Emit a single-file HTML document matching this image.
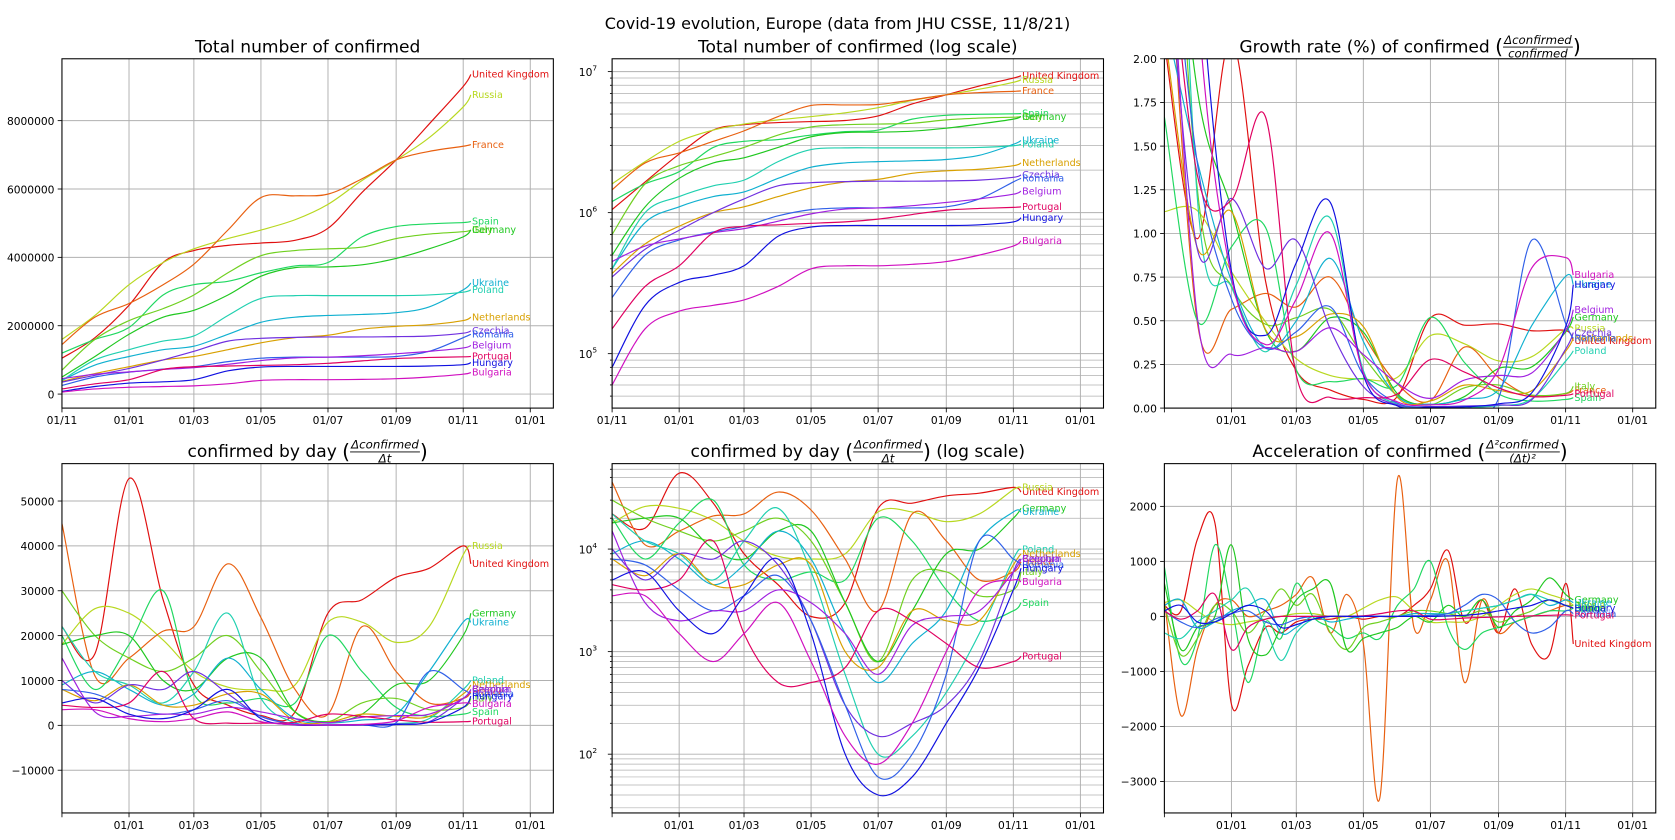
<!DOCTYPE html>
<html><head><meta charset="utf-8">
<style>
html,body{margin:0;padding:0;background:#fff;}
svg{display:block;font-family:"DejaVu Sans","Liberation Sans",sans-serif;}
</style></head>
<body>
<svg id="fig" width="1675" height="840" viewBox="0 0 1568 786.3" xmlns="http://www.w3.org/2000/svg">
<rect width="1568" height="787" fill="#fff"/>
<text x="784" y="27" font-size="15" text-anchor="middle">Covid-19 evolution, Europe (data from JHU CSSE, 11/8/21)</text>
</svg>
<script>
// ---- data ----
const days = [0,30,61,92,120,151,181,212,242,273,304,334,365,372];
const accDays = [0,15,30,46,61,76,92,106,120,135,151,166,181,196,212,227,242,258,273,289,304,319,334,350,365,372];
const monthTicks = [0,61,120,181,242,304,365,426];
const monthLabels = ['01/11','01/01','01/03','01/05','01/07','01/09','01/11','01/01'];
const countries = ['United Kingdom','Russia','France','Spain','Italy','Germany','Ukraine','Poland','Netherlands','Czechia','Romania','Belgium','Portugal','Hungary','Bulgaria'];
// totals (millions)
const totalUK = [1.05,1.65,2.6,3.85,4.2,4.35,4.42,4.5,4.85,5.9,6.85,7.9,9.0,9.35];
const totalRU = [1.6,2.3,3.2,3.85,4.25,4.55,4.8,5.1,5.55,6.25,6.85,7.5,8.4,8.75];
const totalFR = [1.45,2.25,2.65,3.2,3.8,4.8,5.75,5.8,5.85,6.3,6.85,7.1,7.25,7.3];
const totalES = [1.2,1.6,1.95,2.9,3.2,3.3,3.55,3.75,3.85,4.6,4.9,4.98,5.02,5.05];
const totalIT = [0.7,1.6,2.15,2.5,2.9,3.55,4.05,4.2,4.25,4.3,4.55,4.68,4.75,4.8];
const totalDE = [0.5,1.1,1.75,2.25,2.45,2.9,3.45,3.7,3.72,3.78,3.97,4.25,4.6,4.8];
const totalUA = [0.4,0.85,1.1,1.3,1.4,1.75,2.1,2.25,2.3,2.33,2.38,2.55,3.05,3.25];
const totalPL = [0.4,1.0,1.3,1.55,1.7,2.3,2.8,2.88,2.88,2.88,2.88,2.9,2.98,3.05];
const totalNL = [0.37,0.6,0.8,1.0,1.1,1.3,1.5,1.65,1.72,1.9,1.98,2.03,2.15,2.25];
const totalCZ = [0.35,0.55,0.75,1.0,1.25,1.55,1.63,1.66,1.67,1.67,1.68,1.7,1.78,1.85];
const totalRO = [0.25,0.5,0.64,0.73,0.8,0.95,1.05,1.08,1.08,1.08,1.1,1.25,1.65,1.75];
const totalBE = [0.45,0.58,0.65,0.72,0.77,0.87,0.98,1.06,1.08,1.12,1.18,1.25,1.35,1.42];
const totalPT = [0.15,0.3,0.42,0.72,0.8,0.82,0.84,0.86,0.9,0.97,1.04,1.07,1.09,1.1];
const totalHU = [0.08,0.22,0.32,0.36,0.42,0.68,0.79,0.81,0.81,0.81,0.81,0.82,0.86,0.92];
const totalBG = [0.06,0.15,0.2,0.22,0.24,0.3,0.4,0.42,0.42,0.43,0.45,0.5,0.58,0.63];
// confirmed by day
const dailyUK = [22000,16000,55000,28000,9000,4500,2200,3000,25000,28000,33000,35000,40000,36000];
const dailyRU = [18000,26000,25000,19000,12000,8500,8000,9000,23000,23000,18500,22000,38000,40000];
const dailyFR = [45000,11000,15000,21000,22000,36000,24000,8000,2500,22000,12000,5000,6000,7500];
const dailyES = [20000,8000,18000,30000,7000,5000,6000,5000,20000,12000,4000,2000,2500,3000];
const dailyIT = [30000,20000,15000,12000,15000,20000,12000,3000,800,5000,6000,3500,4000,6000];
const dailyDE = [18000,20000,20000,10000,8000,15000,15000,3000,800,2500,9000,10000,20000,25000];
const dailyUA = [9000,12000,8000,4500,7000,15000,8000,1500,500,1200,2500,12000,23000,23000];
const dailyPL = [22000,12000,9000,5000,12000,25000,6000,600,100,150,400,1500,8000,10000];
const dailyNL = [8000,5500,9000,4500,4500,7000,7000,1000,700,2500,2000,2000,7000,9000];
const dailyCZ = [10000,5000,9000,8000,12000,7000,2000,300,150,200,300,800,6000,8000];
const dailyRO = [8000,7000,4000,2500,3500,5500,2000,300,60,100,600,12000,8000,7000];
const dailyBE = [15000,3000,2000,2500,2500,4000,3000,1500,600,1800,2200,2500,6000,8000];
const dailyPT = [4500,4000,5000,12000,1500,500,500,700,2500,2000,1200,700,800,900];
const dailyHU = [5000,6000,2500,1500,3500,8000,1500,100,40,60,200,700,4000,6500];
const dailyBG = [3500,3500,1500,800,1500,3000,800,150,80,200,1000,4000,5000,4800];
// acceleration
const accUK = [200,100,1400,1700,-1600,-900,-200,-300,-100,-50,-50,0,-50,0,0,200,500,1200,-100,300,-300,500,-500,-700,600,-500];
const accRU = [250,300,100,-100,-150,-100,-50,0,50,50,0,0,150,300,350,100,-100,-100,-100,0,200,400,500,400,300,200];
const accFR = [300,-1800,-600,200,300,0,100,200,400,700,-300,400,-500,-3300,2500,-200,300,1000,-1200,300,-300,-100,0,100,200,150];
const accES = [900,-800,-400,1300,200,-1200,-100,-400,600,0,-200,-400,-300,-400,200,500,1000,-200,-600,-300,-200,-100,0,100,100,150];
const accIT = [200,-700,-400,200,100,-300,100,500,200,400,-300,-600,-200,-100,0,100,100,50,0,100,-100,0,100,300,200,200];
const accDE = [600,-600,-200,0,1300,-400,-700,-200,300,500,600,-600,-400,-300,-200,0,-100,200,0,300,-200,100,300,700,400,300];
const accUA = [200,300,-200,-100,100,200,300,-300,-200,0,-100,-50,0,0,0,50,50,50,100,150,200,300,400,200,300,250];
const accPL = [-300,-400,-100,100,300,500,-200,-800,-300,-50,0,0,0,0,0,10,20,50,100,150,200,300,400,300,200,150];
const accRO = [100,-100,-200,-50,50,100,-100,-150,-50,0,0,0,0,0,0,10,20,50,200,400,300,-100,-300,-200,100,50];
const accHU = [100,200,-100,-100,50,200,100,-200,-150,-50,0,0,0,0,0,0,0,10,20,50,100,150,200,300,200,150];
const accPT = [100,-50,100,400,-600,-200,-50,0,0,0,0,0,10,50,100,100,-50,-50,-30,-20,-10,0,10,20,30,20];

const totals = [totalUK,totalRU,totalFR,totalES,totalIT,totalDE,totalUA,totalPL,totalNL,totalCZ,totalRO,totalBE,totalPT,totalHU,totalBG];
const dailies = [dailyUK,dailyRU,dailyFR,dailyES,dailyIT,dailyDE,dailyUA,dailyPL,dailyNL,dailyCZ,dailyRO,dailyBE,dailyPT,dailyHU,dailyBG];
const accs = [accUK,accRU,accFR,accES,accIT,accDE,accUA,accPL,null,null,accRO,null,accPT,accHU,null];
const colors = ['#e01010','#b8d820','#e86010','#20d860','#70d020','#20c820','#10b0d0','#20d0b0','#d8a000','#7030e0','#3060e8','#a020e0','#e00060','#1010e0','#d010c0'];

const NS='http://www.w3.org/2000/svg';
const fig=document.getElementById('fig');
function el(tag,attrs,parent){const e=document.createElementNS(NS,tag);for(const k in attrs)e.setAttribute(k,attrs[k]);(parent||fig).appendChild(e);return e;}
function smooth(pts){
  if(!pts.length)return '';
  let d='M'+pts[0][0].toFixed(1)+','+pts[0][1].toFixed(1);
  for(let i=0;i<pts.length-1;i++){
    const p0=pts[i-1]||pts[i],p1=pts[i],p2=pts[i+1],p3=pts[i+2]||p2;
    const c1=[p1[0]+(p2[0]-p0[0])/6,p1[1]+(p2[1]-p0[1])/6];
    const c2=[p2[0]-(p3[0]-p1[0])/6,p2[1]-(p3[1]-p1[1])/6];
    d+=' C'+c1[0].toFixed(1)+','+c1[1].toFixed(1)+' '+c2[0].toFixed(1)+','+c2[1].toFixed(1)+' '+p2[0].toFixed(1)+','+p2[1].toFixed(1);
  }
  return d;
}
let clipN=0;
function panel(opt){
  const {left,top,w,h,ymin,ymax,log,name}=opt;
  const g=el('g',{});
  
  
  const X=d=>left+d*w/447;
  const Y=v=>{ if(log){const lv=Math.log10(Math.max(v,1e-3));return top+h-(lv-ymin)/(ymax-ymin)*h;} return top+h-(v-ymin)/(ymax-ymin)*h;};
  if(log){
    for(let e=Math.floor(ymin);e<=Math.ceil(ymax);e++){
      for(let m=1;m<10;m++){
        const lv=e+Math.log10(m); if(lv<ymin||lv>ymax)continue;
        const y=top+h-(lv-ymin)/(ymax-ymin)*h;
        el('line',{x1:left,x2:left+w,y1:y,y2:y,stroke:'#b0b0b0','stroke-width':m===1?0.9:0.7},g);
        el('line',{x1:left-(m===1?4:2),x2:left,y1:y,y2:y,stroke:'#000','stroke-width':0.8},g);
        if(m===1){
          const t=el('text',{x:left-14,y:y+4,'font-size':10,'text-anchor':'end'},g);
          
          
          t.textContent='10';
          const s=el('tspan',{'font-size':7,dy:-5},t); s.textContent=String(e);
        }
      }
    }
  } else {
    opt.yticks.forEach((v,i)=>{
      const y=Y(v);
      el('line',{x1:left,x2:left+w,y1:y,y2:y,stroke:'#b0b0b0','stroke-width':0.9},g);
      el('line',{x1:left-4,x2:left,y1:y,y2:y,stroke:'#000','stroke-width':0.8},g);
      const t=el('text',{x:left-7,y:y+4,'font-size':10,'text-anchor':'end'},g);
      
      
      t.textContent=opt.ylabels[i];
    });
  }
  monthTicks.forEach((d,i)=>{
    const x=X(d);
    el('line',{x1:x,x2:x,y1:top,y2:top+h,stroke:'#b0b0b0','stroke-width':0.9},g);
    el('line',{x1:x,x2:x,y1:top+h,y2:top+h+4,stroke:'#000','stroke-width':0.8},g);
    if(i===0&&!opt.firstTick)return;
    const t=el('text',{x:x,y:top+h+15,'font-size':10,'text-anchor':'middle'},g);
    
    
    t.textContent=monthLabels[i];
  });
  const cid='c'+(clipN++);
  const cp=el('clipPath',{id:cid},g);
  el('rect',{x:left,y:top,width:w,height:h},cp);
  const lg=el('g',{'clip-path':'url(#'+cid+')'},g);
  opt.series.forEach((s,i)=>{
    if(!s.vals)return;
    const pts=s.vals.map((v,j)=>[X(s.days[j]),Y(v)]);
    const p=el('path',{d:smooth(pts),fill:'none',stroke:colors[s.ci],'stroke-width':1.1},lg);
    
    
    const last=pts[pts.length-1];
    const ly=Math.min(Math.max(last[1],top+4),top+h-2);
    const t=el('text',{x:last[0]+1,y:ly+3,'font-size':9,fill:colors[s.ci]},g);
    
    
    t.textContent=countries[s.ci];
  });
  el('rect',{x:left,y:top,width:w,height:h,fill:'none',stroke:'#000','stroke-width':1},g);
  const tg=el('g',{},g);
  
  
  const cx=left+w/2, ty=top-6;
  const t1=el('text',{y:ty,'font-size':16},tg); t1.textContent=opt.title[0]; const t1w=t1.getComputedTextLength();
  if(opt.frac){
    const gap=5;
    const lp=el('text',{y:ty+1,'font-size':19},tg); lp.textContent='('; const lpw=lp.getComputedTextLength();
    const nu=el('text',{y:ty-8,'font-size':11,'font-style':'italic','text-anchor':'middle'},tg); nu.textContent=opt.frac[0];
    const de=el('text',{y:ty+5,'font-size':11,'font-style':'italic','text-anchor':'middle'},tg); de.textContent=opt.frac[1];
    const fw=Math.max(nu.getComputedTextLength(),de.getComputedTextLength())+2;
    const rp=el('text',{y:ty+1,'font-size':19},tg); rp.textContent=')'; const rpw=rp.getComputedTextLength();
    const t2=el('text',{y:ty,'font-size':16},tg); t2.textContent=opt.title[1]||''; const t2w=t2.getComputedTextLength();
    const gap2=opt.title[1]?gap:0;
    const total=t1w+gap+lpw+fw+rpw+gap2+t2w;
    let x=cx-total/2;
    t1.setAttribute('x',x); x+=t1w+gap;
    lp.setAttribute('x',x); x+=lpw;
    nu.setAttribute('x',x+fw/2); de.setAttribute('x',x+fw/2);
    el('line',{x1:x,x2:x+fw,y1:ty-5,y2:ty-5,stroke:'#000','stroke-width':0.8},tg);
    x+=fw; rp.setAttribute('x',x); x+=rpw+gap2; t2.setAttribute('x',x);
  } else {
    t1.setAttribute('x',cx); t1.setAttribute('text-anchor','middle');
  }
}
const allIdx=countries.map((c,i)=>i);
const L1=58,L2=573,L3=1090,W=460,H=327,T1=55,T2=434;
panel({name:'panel-total-confirmed',left:L1,top:T1,w:W,h:H,ymin:-0.41,ymax:9.81,firstTick:true,
  yticks:[0,2,4,6,8],ylabels:['0','2000000','4000000','6000000','8000000'],
  title:['Total number of confirmed'],
  series:allIdx.map(i=>({ci:i,days:days,vals:totals[i]}))});
panel({name:'panel-total-confirmed-log',left:L2,top:T1,w:W,h:H,ymin:4.614,ymax:7.091,log:true,firstTick:true,
  title:['Total number of confirmed (log scale)'],
  series:allIdx.map(i=>({ci:i,days:days,vals:totals[i].map(v=>v*1e6)}))});
panel({name:'panel-growth-rate',left:L3,top:T1,w:W,h:H,ymin:0,ymax:2,
  yticks:[0,0.25,0.5,0.75,1,1.25,1.5,1.75,2],ylabels:['0.00','0.25','0.50','0.75','1.00','1.25','1.50','1.75','2.00'],
  title:['Growth rate (%) of confirmed'],frac:['Δconfirmed','confirmed'],
  series:allIdx.map(i=>({ci:i,days:days,vals:dailies[i].map((d,j)=>d/(totals[i][j]*1e6)*100)}))});
panel({name:'panel-confirmed-by-day',left:L1,top:T2,w:W,h:H,ymin:-19524,ymax:58333,
  yticks:[-10000,0,10000,20000,30000,40000,50000],ylabels:['−10000','0','10000','20000','30000','40000','50000'],
  title:['confirmed by day'],frac:['Δconfirmed','Δt'],
  series:allIdx.map(i=>({ci:i,days:days,vals:dailies[i]}))});
panel({name:'panel-confirmed-by-day-log',left:L2,top:T2,w:W,h:H,ymin:1.427,ymax:4.833,log:true,
  title:['confirmed by day','(log scale)'],frac:['Δconfirmed','Δt'],
  series:allIdx.map(i=>({ci:i,days:days,vals:dailies[i]}))});
panel({name:'panel-acceleration',left:L3,top:T2,w:W,h:H,ymin:-3573,ymax:2777,
  yticks:[-3000,-2000,-1000,0,1000,2000],ylabels:['−3000','−2000','−1000','0','1000','2000'],
  title:['Acceleration of confirmed'],frac:['Δ²confirmed','(Δt)²'],
  series:allIdx.map(i=>({ci:i,days:accDays,vals:accs[i]}))});
</script>
</body></html>
